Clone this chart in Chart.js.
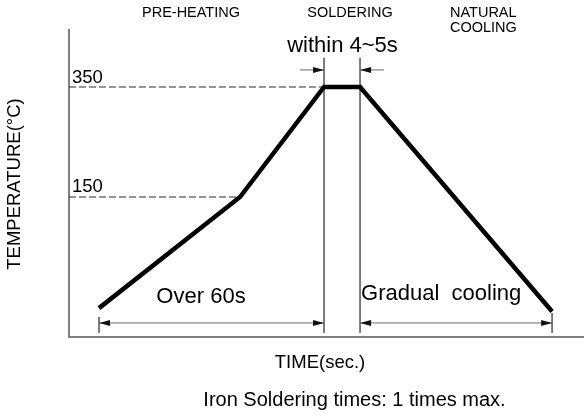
<!DOCTYPE html>
<html>
<head>
<meta charset="utf-8">
<script src="https://cdn.jsdelivr.net/npm/chart.js@4.4.0/dist/chart.umd.min.js"></script>
<style>
  html, body { margin: 0; padding: 0; background: #fff; }
  #wrap { width: 584px; height: 420px; }
</style>
</head>
<body>
<div id="wrap"><canvas id="chart" width="584" height="420"></canvas></div>
<script>
// soldering profile (schematic: time in drawing units, temperature in °C)
const profileTime = [10, 57, 85, 97, 161];
const profileTemp = [-52, 150, 350, 350, -58];

// dashed reference levels
const refTemps = [350, 150];
const refEndTime = [85, 57];

// dimension spans (start, end) in time units
const spanPreheat = [10, 85];
const spanSolder = [85, 97];
const spanCooling = [97, 161];

const phaseLabels = ["PRE-HEATING", "SOLDERING", "NATURAL", "COOLING"];
const spanLabels = ["Over 60s", "within 4~5s", "Gradual  cooling"];

const FONT = "'Liberation Sans', Arial, sans-serif";
const GREY = "#6a6a6a";

function seg(x0, y0, x1, y1, opts) {
  return Object.assign({
    data: [{ x: x0, y: y0 }, { x: x1, y: y1 }],
    borderColor: "#333",
    borderWidth: 1,
    pointRadius: 0,
    fill: false,
  }, opts || {});
}

const datasets = [];

// main profile line
datasets.push({
  data: profileTime.map((t, i) => ({ x: t, y: profileTemp[i] })),
  borderColor: "#000",
  borderWidth: 4.5,
  borderJoinStyle: "miter",
  pointRadius: 0,
  fill: false,
  order: 0,
});

// dashed levels
refTemps.forEach((temp, i) => {
  datasets.push(seg(0, temp, refEndTime[i], temp, { borderDash: [7, 3], borderColor: "#2a2a2a", order: 2 }));
});

// extension lines
datasets.push(seg(spanSolder[0], 403, spanSolder[0], -97, { borderColor: GREY, order: 3 }));
datasets.push(seg(spanSolder[1], 403, spanSolder[1], -97, { borderColor: GREY, order: 3 }));
datasets.push(seg(spanPreheat[0], -68, spanPreheat[0], -97, { borderColor: GREY, order: 3 }));
datasets.push(seg(spanCooling[1], -61, spanCooling[1], -97, { borderColor: GREY, order: 3 }));

// dimension lines
datasets.push(seg(spanPreheat[0], -79, spanPreheat[1], -79, { borderColor: GREY, order: 3 }));
datasets.push(seg(spanCooling[0], -79, spanCooling[1], -79, { borderColor: GREY, order: 3 }));
datasets.push(seg(77, 381, spanSolder[0], 381, { borderColor: GREY, order: 3 }));
datasets.push(seg(spanSolder[1], 381, 105, 381, { borderColor: GREY, order: 3 }));

const annotate = {
  id: "annotate",
  afterDatasetsDraw(chart) {
    const ctx = chart.ctx;
    const xs = chart.scales.x, ys = chart.scales.y;
    const px = (v) => xs.getPixelForValue(v);
    const py = (v) => ys.getPixelForValue(v);

    function head(x, y, dir) {
      ctx.beginPath();
      ctx.moveTo(x, y);
      ctx.lineTo(x - dir * 11, y - 3);
      ctx.lineTo(x - dir * 11, y + 3);
      ctx.closePath();
      ctx.fill();
    }
    ctx.save();
    ctx.fillStyle = "#111";
    head(px(spanPreheat[0]), py(-79), -1);
    head(px(spanPreheat[1]), py(-79), 1);
    head(px(spanCooling[0]), py(-79), -1);
    head(px(spanCooling[1]), py(-79), 1);
    head(px(spanSolder[0]), py(381), 1);
    head(px(spanSolder[1]), py(381), -1);

    ctx.fillStyle = "#000";
    ctx.textBaseline = "alphabetic";
    ctx.textAlign = "left";
    ctx.font = "18.5px " + FONT;
    ctx.fillText("350", px(0) + 3, py(350) - 4);
    ctx.fillText("150", px(0) + 3, py(150) - 5);

    ctx.font = "22px " + FONT;
    ctx.textAlign = "center";
    ctx.fillText(spanLabels[0], 201, 303);
    ctx.fillText(spanLabels[1], 342.5, 52);
    ctx.textAlign = "left";
    ctx.fillText(spanLabels[2], px(spanCooling[0]) + 1, 300);

    ctx.font = "14.5px " + FONT;
    ctx.textAlign = "center";
    ctx.fillText(phaseLabels[0], 191, 17);
    ctx.fillText(phaseLabels[1], 350, 17);
    ctx.textAlign = "left";
    ctx.fillText(phaseLabels[2], 450, 17);
    ctx.fillText(phaseLabels[3], 450, 32);

    ctx.font = "18.5px " + FONT;
    ctx.textAlign = "center";
    ctx.fillText("TIME(sec.)", 320, 368);
    ctx.font = "20px " + FONT;
    ctx.fillText("Iron Soldering times: 1 times max.", 354.5, 406);

    ctx.font = "18.5px " + FONT;
    ctx.translate(20, 184);
    ctx.rotate(-Math.PI / 2);
    ctx.fillText("TEMPERATURE(\u00B0C)", 0, 0);
    ctx.restore();
  },
};

new Chart(document.getElementById("chart"), {
  type: "line",
  data: { datasets },
  options: {
    responsive: false,
    animation: false,
    layout: { padding: { left: 69, top: 30, right: 1, bottom: 83 } },
    plugins: { legend: { display: false }, tooltip: { enabled: false } },
    scales: {
      x: {
        type: "linear",
        min: 0,
        max: 171.3,
        grid: { display: false, drawTicks: false },
        ticks: { display: false },
        border: { display: true, color: "#808080", width: 2 },
      },
      y: {
        type: "linear",
        min: -104.5,
        max: 453.6,
        grid: { display: false, drawTicks: false },
        ticks: { display: false },
        border: { display: true, color: "#808080", width: 2 },
      },
    },
  },
  plugins: [annotate],
});
</script>
</body>
</html>
